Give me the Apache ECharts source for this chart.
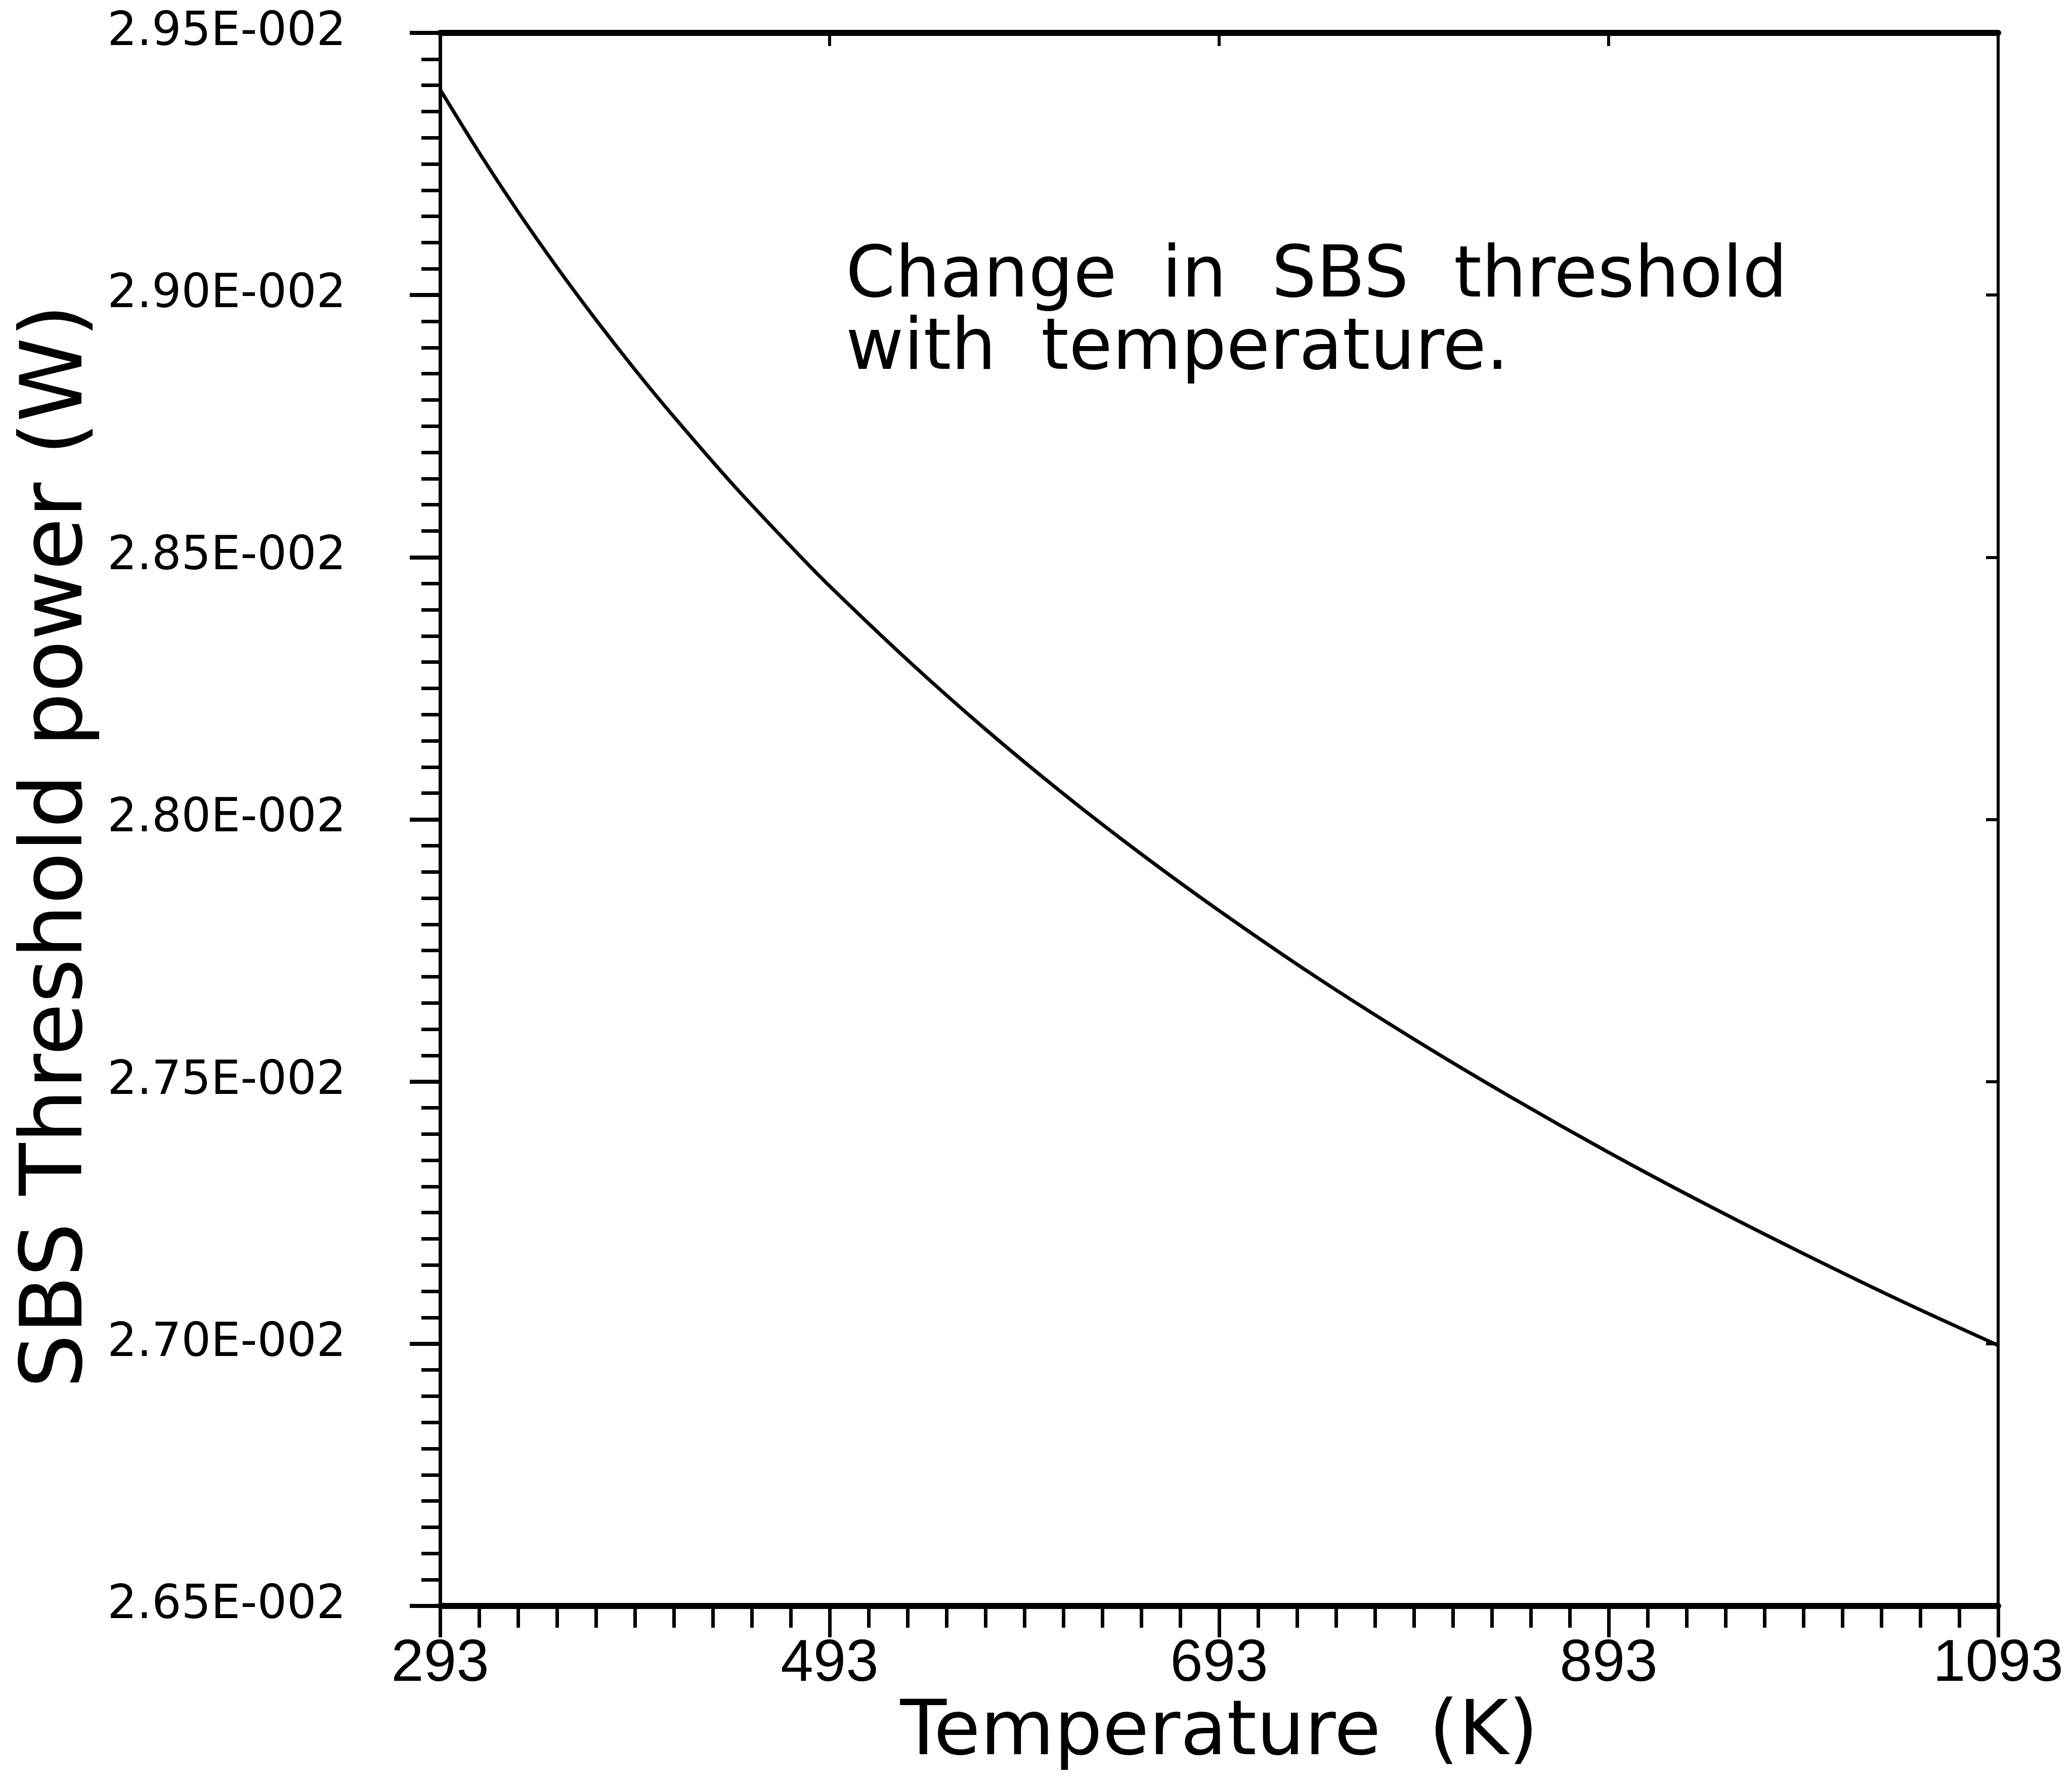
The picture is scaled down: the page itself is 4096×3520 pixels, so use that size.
<!DOCTYPE html>
<html>
<head>
<meta charset="utf-8">
<script src="https://cdn.jsdelivr.net/npm/echarts@6/dist/echarts.min.js"></script>
<style>
html,body{margin:0;padding:0;background:#fff;}
#chart{width:4096px;height:3520px;}
</style>
</head>
<body>
<div id="chart"></div>
<script>
// Temperature (K)
var temperatures = [293, 313, 333, 353, 373, 393, 413, 443, 473, 493, 533, 573, 613, 653, 693, 743, 793, 843, 893, 943, 993, 1043, 1093];
// SBS threshold power (W)
var thresholdPower = [0.029392, 0.029272, 0.029159, 0.029053, 0.028953, 0.028858, 0.028768, 0.028640, 0.028521, 0.028445, 0.028304, 0.028172, 0.028049, 0.027934, 0.027826, 0.027699, 0.027581, 0.027470, 0.027365, 0.027266, 0.027172, 0.027082, 0.026997];

var xTickValues = [293, 493, 693, 893, 1093];
var xTickLabels = ['293', '493', '693', '893', '1093'];
var xTopTickValues = [493, 693, 893];
var yTickValues = [0.0265, 0.0270, 0.0275, 0.0280, 0.0285, 0.0290, 0.0295];
var yTickLabels = ['2.65E-002', '2.70E-002', '2.75E-002', '2.80E-002', '2.85E-002', '2.90E-002', '2.95E-002'];
var annotationText = 'Change  in  SBS  threshold\nwith  temperature.';
var xTitle = 'Temperature  (K)';
var yTitle = 'SBS Threshold power (W)';

var xMinorTicks = [];
for (var t = 293; t <= 1093; t += 20) {
  if ((t - 293) % 200 !== 0) xMinorTicks.push(t);
}

var pairs = temperatures.map(function (t, i) { return [t, thresholdPower[i]]; });

var chart = echarts.init(document.getElementById('chart'), null, {renderer: 'canvas'});
var black = '#000';
var tickFont = 'Liberation Sans, Arial, sans-serif';
var titleFont = 'DejaVu Sans, sans-serif';

chart.setOption({
  animation: false,
  backgroundColor: '#fff',
  grid: {left: 870, right: 146, top: 65, bottom: 346, containLabel: false},
  xAxis: [
    {
      type: 'value', position: 'bottom', min: 293, max: 1093,
      axisLine: {show: true, lineStyle: {color: black, width: 12}},
      axisTick: {show: true, inside: false, length: 62, customValues: xTickValues, lineStyle: {color: black, width: 7}},
      axisLabel: {show: true, customValues: xTickValues, margin: 58, color: black, fontFamily: tickFont, fontSize: 116,
        formatter: function (v) { var i = xTickValues.indexOf(v); return i >= 0 ? xTickLabels[i] : ''; }},
      splitLine: {show: false},
      name: xTitle, nameLocation: 'middle', nameGap: 172,
      nameTextStyle: {color: black, fontFamily: titleFont, fontSize: 150}
    },
    {
      type: 'value', position: 'bottom', min: 293, max: 1093,
      axisLine: {show: false},
      axisTick: {show: true, inside: false, length: 43, customValues: xMinorTicks, lineStyle: {color: black, width: 7}},
      axisLabel: {show: false},
      splitLine: {show: false}
    },
    {
      type: 'value', position: 'top', min: 293, max: 1093,
      axisLine: {show: true, lineStyle: {color: black, width: 12}},
      axisTick: {show: true, inside: true, length: 26, customValues: xTopTickValues, lineStyle: {color: black, width: 6}},
      axisLabel: {show: false},
      splitLine: {show: false}
    }
  ],
  yAxis: [
    {
      type: 'value', position: 'left', min: 0.0265, max: 0.0295, interval: 0.0005,
      axisLine: {show: true, lineStyle: {color: black, width: 7}},
      axisTick: {show: true, inside: false, length: 60, lineStyle: {color: black, width: 8}},
      minorTick: {show: true, splitNumber: 10, length: 37, lineStyle: {color: black, width: 7}},
      axisLabel: {show: true, margin: 186, color: black, fontFamily: titleFont, fontSize: 92,
        formatter: function (v) {
          var i = Math.round((v - yTickValues[0]) / (yTickValues[1] - yTickValues[0]));
          return yTickLabels[i] || '';
        }},
      splitLine: {show: false}, minorSplitLine: {show: false},
      name: yTitle, nameLocation: 'middle', nameGap: 667,
      nameTextStyle: {color: black, fontFamily: titleFont, fontSize: 169, padding: [0, 106, 0, 0]}
    },
    {
      type: 'value', position: 'right', min: 0.0265, max: 0.0295, interval: 0.0005,
      axisLine: {show: true, lineStyle: {color: black, width: 6}},
      axisTick: {show: true, inside: true, length: 24, lineStyle: {color: black, width: 6}},
      axisLabel: {show: false},
      splitLine: {show: false}
    }
  ],
  graphic: [
    {
      type: 'text', left: 1672, top: 478, silent: true,
      style: {text: annotationText, fill: black, font: '140px "DejaVu Sans", sans-serif', lineHeight: 143}
    }
  ],
  series: [
    {
      type: 'line', xAxisIndex: 0, yAxisIndex: 0,
      data: pairs, showSymbol: false, smooth: 0.3,
      lineStyle: {color: black, width: 7}
    }
  ]
});
</script>
</body>
</html>
